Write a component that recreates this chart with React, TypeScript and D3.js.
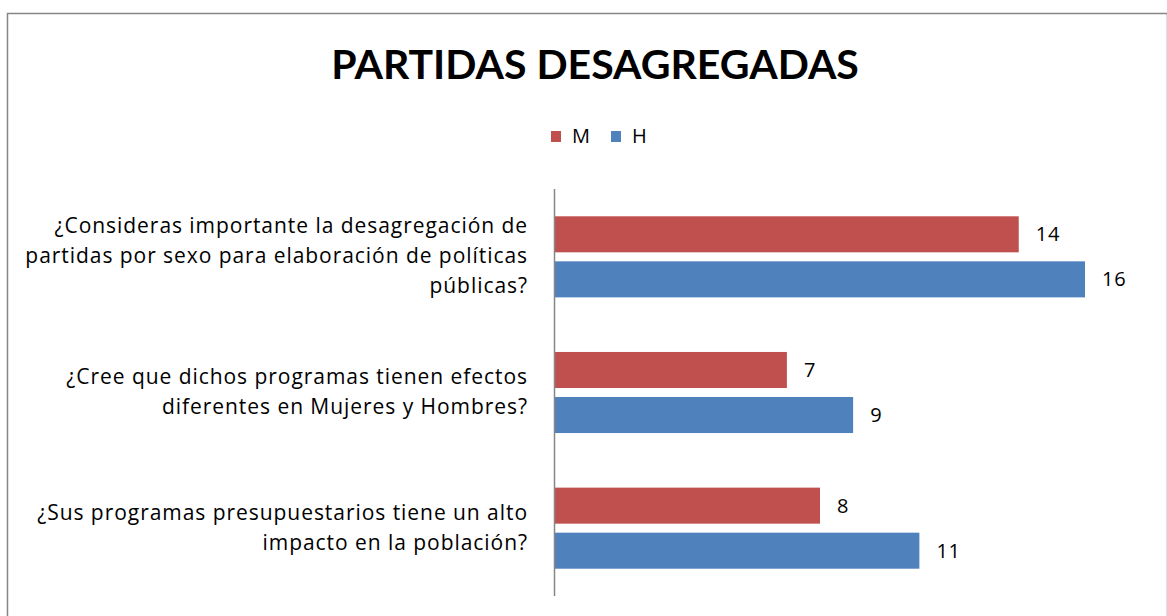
import { useEffect, useRef } from "react"
import * as d3 from "d3"

// Chart data
const categories = [
  "¿Consideras importante la desagregación de|partidas por sexo para elaboración de políticas|públicas?",
  "¿Cree que dichos programas tienen efectos|diferentes en Mujeres y Hombres?",
  "¿Sus programas presupuestarios tiene un alto|impacto en la población?",
]
const seriesNames = ["M", "H"]
const valuesM = [14, 7, 8]
const valuesH = [16, 9, 11]
const seriesColors = ["#c0504d", "#4f81bd"]

const TITLE_FONT = "Lato, sans-serif"
const FONT = "'Open Sans', sans-serif"

export default function App() {
  const svgRef = useRef<SVGSVGElement>(null)

  useEffect(() => {
    if (!svgRef.current) return
    document.body.style.margin = "0"

    const width = 1167
    const height = 616
    const svg = d3.select(svgRef.current)
    svg.selectAll("*").remove()
    svg.attr("width", width).attr("height", height).attr("viewBox", [0, 0, width, height])

    // Outer frame
    svg
      .append("rect")
      .attr("x", 7.5)
      .attr("y", 13.5)
      .attr("width", 1160)
      .attr("height", 620)
      .attr("fill", "#fff")
      .attr("stroke", "#868686")
      .attr("stroke-width", 1.5)

    // Title
    svg
      .append("text")
      .attr("x", 595)
      .attr("y", 79)
      .attr("text-anchor", "middle")
      .attr("font-family", TITLE_FONT)
      .attr("font-weight", "bold")
      .attr("font-size", "41px")
      .attr("fill", "#000")
      .text("PARTIDAS DESAGREGADAS")

    // Legend
    const legendX = [551, 611]
    const legend = svg
      .selectAll(".legend")
      .data(seriesNames)
      .join("g")
      .attr("class", "legend")
      .attr("transform", (_d, i) => `translate(${legendX[i]},131)`)
    legend
      .append("rect")
      .attr("width", 10)
      .attr("height", 11)
      .attr("fill", (_d, i) => seriesColors[i])
    legend
      .append("text")
      .attr("x", 21)
      .attr("y", 12)
      .attr("font-family", FONT)
      .attr("font-size", "20px")
      .text((d) => d)

    // Scales
    const x = d3.scaleLinear().domain([0, 16]).range([555, 1085])
    const y = d3.scaleBand<number>().domain(d3.range(categories.length)).range([189, 596])
    const ySeries = d3
      .scaleBand<string>()
      .domain(seriesNames)
      .range([27.3, y.bandwidth() - 27.3])
      .paddingInner(0.2)

    const rows = categories.map((c, i) => ({ c, i, vals: [valuesM[i], valuesH[i]] }))

    const group = svg
      .selectAll(".cat")
      .data(rows)
      .join("g")
      .attr("class", "cat")
      .attr("transform", (d) => `translate(0,${y(d.i)})`)

    const bars = group
      .selectAll(".bar")
      .data((d) => d.vals.map((v, k) => ({ v, k })))
      .join("g")
      .attr("class", "bar")

    bars
      .append("rect")
      .attr("x", x(0))
      .attr("y", (d) => ySeries(seriesNames[d.k])!)
      .attr("width", (d) => x(d.v) - x(0))
      .attr("height", ySeries.bandwidth())
      .attr("fill", (d) => seriesColors[d.k])

    bars
      .append("text")
      .attr("x", (d) => x(d.v) + 17)
      .attr("y", (d) => ySeries(seriesNames[d.k])! + ySeries.bandwidth() / 2 + 7)
      .attr("font-family", FONT)
      .attr("font-size", "20px")
      .attr("letter-spacing", "0.8px")
      .text((d) => d.v)

    // Category labels (multi-line, right aligned)
    const lineH = 30
    group.each(function (d) {
      const lines = d.c.split("|")
      const cy = y.bandwidth() / 2 + 6.5
      const t = d3
        .select(this)
        .append("text")
        .attr("text-anchor", "end")
        .attr("font-family", FONT)
        .attr("font-size", "21px")
        .attr("letter-spacing", "0.95px")
        .attr("fill", "#000")
      lines.forEach((ln, j) => {
        t.append("tspan")
          .attr("x", 528)
          .attr("y", cy + (j - (lines.length - 1) / 2) * lineH)
          .text(ln)
      })
    })

    // Vertical axis line
    svg
      .append("line")
      .attr("x1", x(0) - 0.5)
      .attr("x2", x(0) - 0.5)
      .attr("y1", 189)
      .attr("y2", 596)
      .attr("stroke", "#868686")
      .attr("stroke-width", 1.5)
  }, [])

  return <svg ref={svgRef} style={{ display: "block" }} />
}
